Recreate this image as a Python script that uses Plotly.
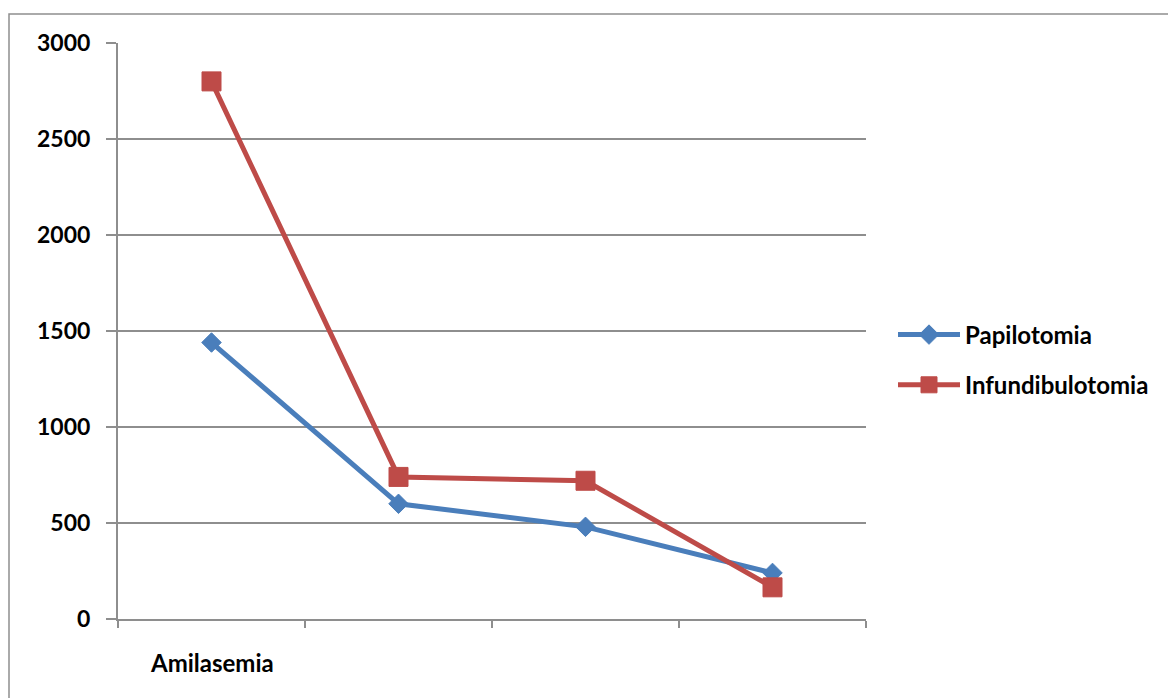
import plotly.graph_objects as go

# Amilasemia levels for each technique, across four measurement points
categories = ["Amilasemia", "", "", ""]
papilotomia = [1440, 600, 480, 240]
infundibulotomia = [2800, 740, 720, 165]
y_ticks = [0, 500, 1000, 1500, 2000, 2500, 3000]

BLUE = "#4A7EBB"
RED = "#BE4B48"
GRID = "#8E8E8E"
FAMILY = "Lato, 'Open Sans', sans-serif"
FONT = dict(family=FAMILY, size=23, color="#000000")

x_idx = list(range(len(categories)))

fig = go.Figure()
fig.add_trace(go.Scatter(
    x=x_idx, y=papilotomia, name="<b>Papilotomia</b>", mode="lines+markers",
    line=dict(color=BLUE, width=5),
    marker=dict(symbol="diamond", size=15, color=BLUE, line=dict(color=BLUE, width=1)),
    legendgroup="a",
))
fig.add_trace(go.Scatter(
    x=x_idx, y=infundibulotomia, name="<b>Infundibulotomia</b>", mode="lines+markers",
    line=dict(color=RED, width=5),
    marker=dict(symbol="square", size=19, color=RED, line=dict(color=RED, width=1)),
    legendgroup="b",
))

# outer chart frame
fig.add_shape(type="rect", xref="paper", yref="paper",
              x0=(9 - 118) / 748, x1=(1180 - 118) / 748,
              y0=-(710 - 619) / 576, y1=1 + (43 - 14) / 576,
              line=dict(color=GRID, width=1.5), fillcolor="rgba(0,0,0,0)", layer="below")

fig.update_layout(
    width=1168, height=698,
    margin=dict(l=118, r=302, t=43, b=79),
    paper_bgcolor="white", plot_bgcolor="white",
    font=FONT,
    showlegend=True,
    legend=dict(x=(893 - 118) / 748, y=(619 - 360) / 576, xanchor="left", yanchor="middle",
                font=dict(family=FAMILY, size=24, color="#000000"),
                traceorder="grouped", tracegroupgap=16, itemwidth=62,
                bgcolor="rgba(0,0,0,0)"),
)

fig.update_xaxes(
    type="linear", range=[-0.5, len(categories) - 0.5],
    tickmode="array",
    tickvals=[i - 0.5 for i in range(len(categories) + 1)],
    ticktext=[""] * (len(categories) + 1),
    ticks="outside", ticklen=7, tickcolor=GRID, tickwidth=1.5,
    showline=True, linecolor=GRID, linewidth=2,
    showgrid=False, zeroline=False,
)

# category labels at the centre of each slot
for i, c in enumerate(categories):
    if c:
        fig.add_annotation(x=i, y=0, xref="x", yref="paper", text=f"<b>{c}</b>",
                           showarrow=False, yshift=-60,
                           font=dict(family=FAMILY, size=24, color="#000000"))

fig.update_yaxes(
    range=[0, 3000], tickmode="array", tickvals=y_ticks,
    ticktext=[f"<b>{v}</b>" for v in y_ticks],
    ticks="outside", ticklen=10, tickcolor=GRID, tickwidth=1.5,
    ticklabelstandoff=11,
    showline=True, linecolor=GRID, linewidth=2,
    showgrid=True, gridcolor=GRID, gridwidth=2, zeroline=False,
)

fig.write_html("out.html")
